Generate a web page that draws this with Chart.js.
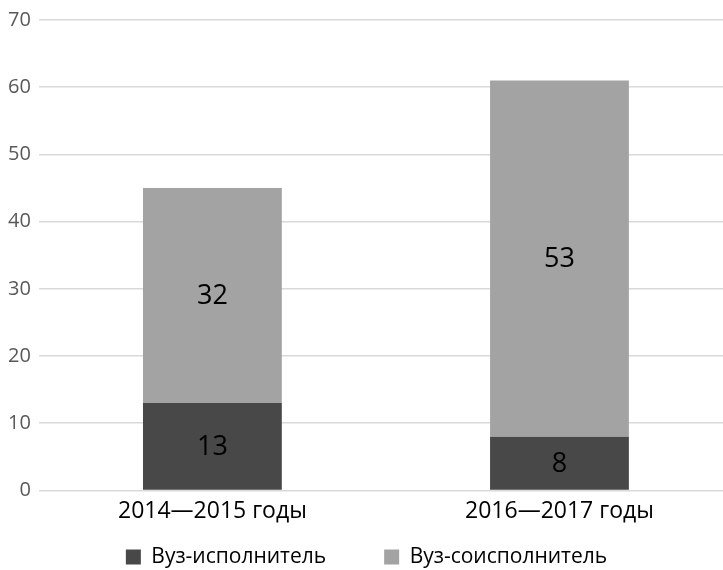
<!DOCTYPE html>
<html>
<head>
<meta charset="utf-8">
<script src="https://cdn.jsdelivr.net/npm/chart.js@4"></script>
<style>
    html, body {margin: 0; padding: 0; background: #fff; overflow: hidden;}
    #wrap {width: 733px; height: 570px;}
</style>
</head>
<body>
<div id="wrap"><canvas id="bar_canvas"></canvas></div>
<script>
const categories = ["2014\u20142015 годы", "2016\u20142017 годы"];
const series_names = ["Вуз-исполнитель", "Вуз-соисполнитель"];
const executor_values = [13, 8];
const coexecutor_values = [32, 53];
const y_ticks = [0, 10, 20, 30, 40, 50, 60, 70];

const font_family = "'Open Sans', 'Noto Sans', sans-serif";

// labels in the middle of every bar segment
const bar_labels = {
    id: "bar_labels",
    afterDatasetsDraw(chart) {
        const ctx = chart.ctx;
        ctx.save();
        ctx.font = "27px " + font_family;
        ctx.fillStyle = "#000";
        ctx.textAlign = "center";
        ctx.textBaseline = "middle";
        chart.data.datasets.forEach(function(dataset, i) {
            const meta = chart.getDatasetMeta(i);
            meta.data.forEach(function(bar, j) {
                const mid = (bar.y + bar.base) / 2;
                ctx.fillText(dataset.data[j], bar.x, mid + 1);
            });
        });
        ctx.restore();
    }
};

// legend keeps wide gaps between items but a short box; move it down after layout
const legend_shift = {
    id: "legend_shift",
    afterLayout(chart) {
        if (chart.legend) {
            chart.legend.top = 557 - 58 - 10.5;
        }
    }
};

let data = {
    labels: categories,
    datasets: [
        {
            label: series_names[0],
            data: executor_values,
            backgroundColor: "#484848",
            barPercentage: 0.4,
            categoryPercentage: 1.0
        },
        {
            label: series_names[1],
            data: coexecutor_values,
            backgroundColor: "#a3a3a3",
            barPercentage: 0.4,
            categoryPercentage: 1.0
        }
    ]
};

let config = {
    type: 'bar',
    data: data,
    options: {
        responsive: true,
        maintainAspectRatio: false,
        animation: false,
        layout: {
            padding: {top: 19, right: 0, left: 0, bottom: 0}
        },
        plugins: {
            legend: {
                position: 'bottom',
                maxHeight: 38,
                labels: {
                    font: {family: font_family, size: 21},
                    color: "#000",
                    boxWidth: 15,
                    boxHeight: 15,
                    padding: 58
                }
            },
            tooltip: {enabled: false}
        },
        scales: {
            x: {
                stacked: true,
                grid: {display: false, drawTicks: false},
                border: {display: false},
                ticks: {
                    font: {family: font_family, size: 23},
                    color: "#000",
                    padding: 7
                }
            },
            y: {
                stacked: true,
                min: 0,
                max: 70,
                afterBuildTicks: function(axis) {
                    axis.ticks = y_ticks.map(function(v) {return {value: v};});
                },
                grid: {
                    color: "#d9d9d9",
                    lineWidth: 1.5,
                    drawTicks: false
                },
                border: {display: false},
                ticks: {
                    font: {family: font_family, size: 20},
                    color: "#595959",
                    padding: 8
                }
            }
        }
    },
    plugins: [bar_labels, legend_shift]
};

new Chart(document.getElementById('bar_canvas'), config);
</script>
</body>
</html>
